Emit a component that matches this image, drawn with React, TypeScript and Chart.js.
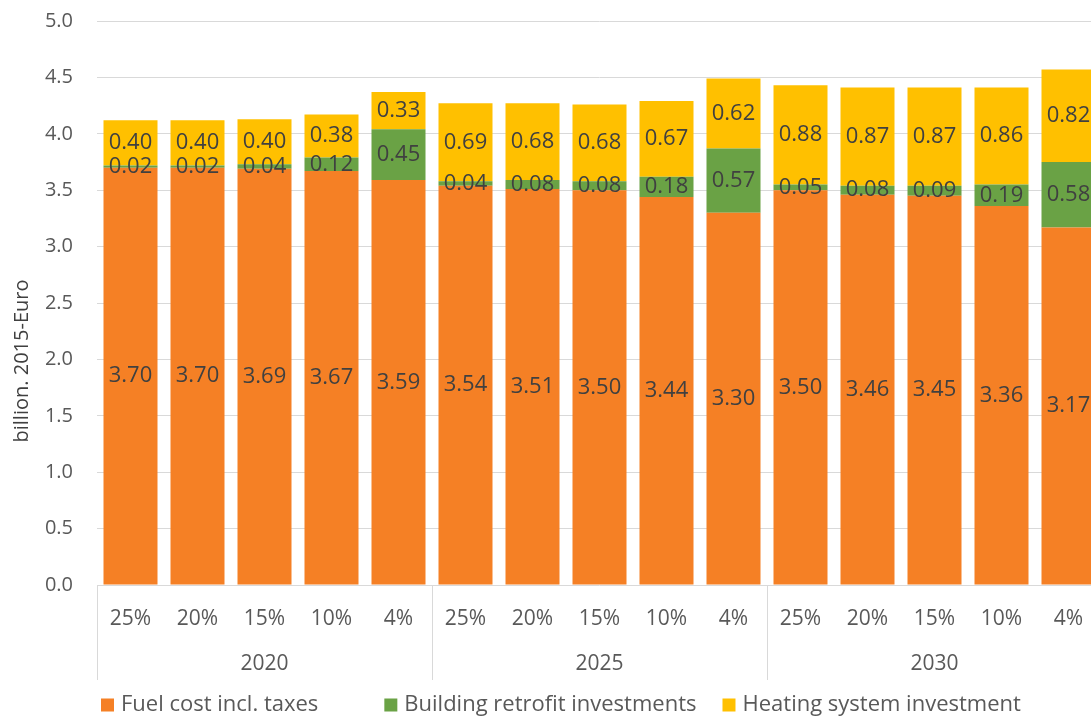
import React, { useEffect, useRef } from 'react';
import { Chart, registerables } from 'chart.js';

Chart.register(...registerables);

const categories = ['25%', '20%', '15%', '10%', '4%', '25%', '20%', '15%', '10%', '4%', '25%', '20%', '15%', '10%', '4%'];
const years = ['2020', '2025', '2030'];
const groupSize = 5;
const fuelCost = [3.70, 3.70, 3.69, 3.67, 3.59, 3.54, 3.51, 3.50, 3.44, 3.30, 3.50, 3.46, 3.45, 3.36, 3.17];
const retrofit = [0.02, 0.02, 0.04, 0.12, 0.45, 0.04, 0.08, 0.08, 0.18, 0.57, 0.05, 0.08, 0.09, 0.19, 0.58];
const heating = [0.40, 0.40, 0.40, 0.38, 0.33, 0.69, 0.68, 0.68, 0.67, 0.62, 0.88, 0.87, 0.87, 0.86, 0.82];
const seriesNames = ['Fuel cost incl. taxes', 'Building retrofit investments', 'Heating system investment'];
const seriesColors = ['#F58025', '#6AA245', '#FFC000'];
const yTitle = 'billion. 2015-Euro';

const FONT = "'Open Sans', sans-serif";
const GRID = '#D9D9D9';
const AXIS_TEXT = '#595959';
const SHIFT = 15;

const valueLabels = {
  id: 'valueLabels',
  afterDatasetsDraw(chart: any) {
    const ctx = chart.ctx;
    ctx.save();
    ctx.font = `22px ${FONT}`;
    ctx.fillStyle = '#404040';
    ctx.textAlign = 'center';
    ctx.textBaseline = 'middle';
    chart.data.datasets.forEach((ds: any, di: number) => {
      const meta = chart.getDatasetMeta(di);
      meta.data.forEach((el: any, i: number) => {
        const v = ds.data[i];
        const y = (el.y + el.base) / 2;
        ctx.fillText(v.toFixed(2), el.x, y);
      });
    });
    ctx.restore();
  },
};

const groupAxis = {
  id: 'groupAxis',
  afterDraw(chart: any) {
    const ctx = chart.ctx;
    const xs = chart.scales.x;
    const top = chart.chartArea.bottom;
    const bottom = xs.bottom;
    ctx.save();
    ctx.strokeStyle = GRID;
    ctx.lineWidth = 1;
    for (let g = 0; g <= years.length; g++) {
      const px = Math.round(xs.getPixelForValue(g * groupSize - 0.5)) + 0.5;
      ctx.beginPath();
      ctx.moveTo(px, top);
      ctx.lineTo(px, bottom);
      ctx.stroke();
    }
    ctx.font = `21px ${FONT}`;
    ctx.fillStyle = AXIS_TEXT;
    ctx.textAlign = 'center';
    ctx.textBaseline = 'middle';
    years.forEach((yr, g) => {
      const cx = xs.getPixelForValue(g * groupSize + (groupSize - 1) / 2);
      ctx.fillText(yr, cx, top + 79);
    });

    // y axis title
    ctx.save();
    ctx.translate(22, 361 + SHIFT);
    ctx.rotate(-Math.PI / 2);
    ctx.font = `20px ${FONT}`;
    ctx.fillStyle = '#404040';
    ctx.fillText(yTitle, 0, 0);
    ctx.restore();

    // legend
    ctx.font = `22px ${FONT}`;
    const box = 13;
    const gapBoxText = 7;
    const gaps = [66, 26];
    let x = chart.chartArea.left + 4;
    const ly = chart.height - 13;
    ctx.textAlign = 'left';
    seriesNames.forEach((n, i) => {
      ctx.fillStyle = seriesColors[i];
      ctx.fillRect(x, ly - box / 2, box, box);
      ctx.fillStyle = AXIS_TEXT;
      ctx.fillText(n, x + box + gapBoxText, ly);
      x += box + gapBoxText + ctx.measureText(n).width + (gaps[i] || 0);
    });
    ctx.restore();
  },
};

export default function App() {
  const ref = useRef<HTMLCanvasElement>(null);
  useEffect(() => {
    if (!ref.current) return;
    const chart = new Chart(ref.current, {
      type: 'bar',
      data: {
        labels: categories,
        datasets: [
          { label: seriesNames[0], data: fuelCost, backgroundColor: seriesColors[0] },
          { label: seriesNames[1], data: retrofit, backgroundColor: seriesColors[1] },
          { label: seriesNames[2], data: heating, backgroundColor: seriesColors[2] },
        ],
      },
      options: {
        animation: false,
        responsive: false,
        datasets: { bar: { barPercentage: 0.806, categoryPercentage: 1 } },
        layout: { autoPadding: false, padding: { top: 20, right: 8, bottom: 38, left: 0 } },
        plugins: { legend: { display: false }, tooltip: { enabled: false } },
        scales: {
          x: {
            stacked: true,
            grid: { display: false },
            border: { display: false },
            ticks: { color: AXIS_TEXT, font: { family: FONT, size: 21 }, padding: 13, maxRotation: 0 },
            afterFit: (s: any) => { s.height = 95; },
          },
          y: {
            stacked: true,
            min: 0,
            max: 5,
            grid: { color: GRID, drawTicks: false },
            border: { display: false },
            ticks: {
              stepSize: 0.5,
              color: AXIS_TEXT,
              font: { family: FONT, size: 20 },
              padding: 24,
              callback: (v: any) => Number(v).toFixed(1),
            },
            afterFit: (s: any) => { s.width = 97; },
          },
        },
      },
      plugins: [valueLabels, groupAxis],
    });
    return () => chart.destroy();
  }, []);
  return (
    <div style={{ position: 'fixed', left: 0, top: 0, width: 1091, height: 718, overflow: 'hidden', background: '#fff' }}>
      <canvas
        ref={ref}
        width={1110}
        height={718 + SHIFT}
        style={{ width: 1110, height: 718 + SHIFT, display: 'block', marginTop: -SHIFT }}
      />
    </div>
  );
}
